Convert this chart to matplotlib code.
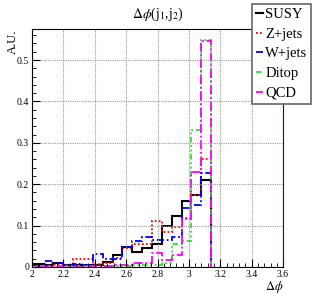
import numpy as np
import matplotlib
matplotlib.use('Agg')
import matplotlib.pyplot as plt
from matplotlib.ticker import MultipleLocator

plt.rcParams['font.family'] = ['Liberation Serif', 'DejaVu Serif']
plt.rcParams['mathtext.fontset'] = 'stix'

# 50 bins from 0 to pi, only bins 31..49 reach into the visible range
edges = np.linspace(0, np.pi, 51)[31:]

susy = [0.006, 0.008, 0.004, 0.009, 0.006, 0.004, 0.006, 0.005, 0.011, 0.029,
        0.048, 0.036, 0.047, 0.056, 0.100, 0.122, 0.160, 0.173, 0.209]
zjets = [0.002, 0.002, 0.003, 0.004, 0.005, 0.019, 0.019, 0.008, 0.010, 0.022,
         0.046, 0.055, 0.056, 0.112, 0.085, 0.096, 0.118, 0.175, 0.260]
wjets = [0.005, 0.002, 0.015, 0.010, 0.005, 0.008, 0.006, 0.031, 0.019, 0.020,
         0.049, 0.064, 0.072, 0.066, 0.065, 0.072, 0.142, 0.150, 0.227]
ditop = [0.002, 0.002, 0.002, 0.002, 0.002, 0.002, 0.002, 0.002, 0.003, 0.003,
         0.003, 0.004, 0.004, 0.004, 0.010, 0.056, 0.062, 0.330, 0.548]
qcd = [0.001, 0.001, 0.001, 0.001, 0.001, 0.001, 0.002, 0.002, 0.003, 0.004,
       0.004, 0.010, 0.010, 0.033, 0.017, 0.028, 0.116, 0.230, 0.547]

fig = plt.figure(figsize=(3.15, 2.96), dpi=100)
ax = fig.add_axes([0.1016, 0.098, 0.797, 0.804])

ax.stairs(susy, edges, color='black', lw=1.5, label='SUSY')
ax.stairs(zjets, edges, color='red', lw=1.3, ls=(0, (1, 1.2)), label='Z+jets')
ax.stairs(wjets, edges, color='blue', lw=1.3, ls=(0, (4, 1.5, 1, 1.5)), label='W+jets')
ax.stairs(ditop, edges, color='#33dd33', lw=1.3, ls=(0, (3, 1.5, 1, 1.5, 1, 1.5)), label='Ditop')
ax.stairs(qcd, edges, color='magenta', lw=1.3, ls=(0, (5, 1.5, 1, 1.5)), label='QCD')

ax.set_xlim(2, 3.6)
ax.set_ylim(0, 0.575)
ax.xaxis.set_minor_locator(MultipleLocator(0.04))
ax.yaxis.set_minor_locator(MultipleLocator(0.02))
ax.set_xticks([2, 2.2, 2.4, 2.6, 2.8, 3, 3.2, 3.4, 3.6])
ax.set_xticklabels(['2', '2.2', '2.4', '2.6', '2.8', '3', '3.2', '3.4', '3.6'])
ax.set_yticks([0, 0.1, 0.2, 0.3, 0.4, 0.5])
ax.set_yticklabels(['0', '0.1', '0.2', '0.3', '0.4', '0.5'])
ax.tick_params(which='both', direction='in', labelsize=7, top=False, right=False, pad=2)
ax.tick_params(which='major', length=6)
ax.tick_params(which='minor', length=3)
ax.grid(True, which='major', color='#999999', ls=(0, (1, 1)), lw=0.8)
ax.spines['right'].set_color('#660000')

ax.set_title(r'$\Delta\phi$(j$_1$,j$_2$)', fontsize=10, pad=8)
fig.text(13 / 315, 1 - 29 / 296, 'A.U.', rotation=90, ha='center', va='top', fontsize=9)
fig.text(283 / 315, 1 - 279 / 296, r'$\Delta\phi$', ha='right', va='top', fontsize=9)

leg = ax.legend(loc='upper left', bbox_to_anchor=(252 / 315, 1 - 4 / 296),
                bbox_transform=fig.transFigure, fontsize=10.5,
                handlelength=0.5, handletextpad=0.15, borderpad=0.25,
                labelspacing=0.45, fancybox=False, framealpha=1,
                edgecolor='#666666', borderaxespad=0)
leg.get_frame().set_linewidth(1.2)

fig.savefig('out.png', dpi=100)
